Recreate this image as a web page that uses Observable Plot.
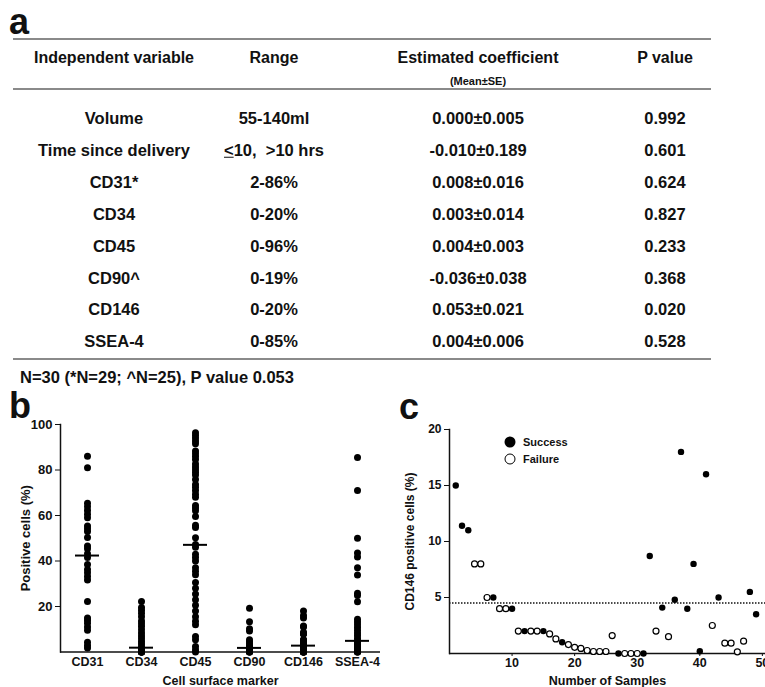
<!DOCTYPE html>
<html><head><meta charset="utf-8">
<script src="https://cdn.jsdelivr.net/npm/d3@7"></script>
<script src="https://cdn.jsdelivr.net/npm/@observablehq/plot@0.6"></script>
<style>
body{margin:0;background:#fff;}
#root{position:relative;width:765px;height:687px;overflow:hidden;font-family:"Liberation Sans",Arial,sans-serif;font-weight:bold;color:#111;}
.t{position:absolute;white-space:nowrap;transform:translate(-50%,-50%);line-height:1;}
.l{position:absolute;white-space:nowrap;transform:translate(0,-50%);line-height:1;}
.rule{position:absolute;left:13px;width:698px;height:2px;background:#8a8a8a;}
.panel{position:absolute;}
.dotf{position:absolute;width:11px;height:11px;border-radius:50%;background:#000;transform:translate(-50%,-50%);}
.doto{position:absolute;width:9px;height:9px;border-radius:50%;border:1.5px solid #000;background:#fff;transform:translate(-50%,-50%);}
</style></head>
<body><div id="root"></div>
<script>
// ---------- Panel a: table ----------
const headers = ["Independent variable", "Range", "Estimated coefficient", "P value"];
const subHeader = "(Mean±SE)";
const variables = ["Volume", "Time since delivery", "CD31*", "CD34", "CD45", "CD90^", "CD146", "SSEA-4"];
const ranges = ["55-140ml", "≤10,  >10 hrs", "2-86%", "0-20%", "0-96%", "0-19%", "0-20%", "0-85%"];
const coefficients = ["0.000±0.005", "-0.010±0.189", "0.008±0.016", "0.003±0.014", "0.004±0.003", "-0.036±0.038", "0.053±0.021", "0.004±0.006"];
const pValues = ["0.992", "0.601", "0.624", "0.827", "0.233", "0.368", "0.020", "0.528"];
const footnote = "N=30 (*N=29; ^N=25), P value 0.053";

// ---------- Panel b: positive cells (%) per marker ----------
const markers = ["CD31", "CD34", "CD45", "CD90", "CD146", "SSEA-4"];
const cd31 = [86, 81, 65.4, 63.8, 62.2, 60.6, 59, 55.4, 54.2, 53, 50.3, 46.6, 45.4, 43.2, 41.5, 38.5, 36.3, 34.8, 33.2, 31.6, 22.2, 15, 13.8, 12.6, 11, 9.6, 4.3, 2.9, 1.8];
const cd34 = [22.2, 19.6, 18.3, 17, 15.5, 13.6, 12.4, 11.2, 9.8, 8.4, 7, 5.8, 4.6, 3.5, 2.3, 1.5, 1.2, 1, 0.8, 0.6, 0.5, 0.4, 0.3, 0.2, 0.1, 0, 0, 0, 0, 0];
const cd45 = [96.4, 95.3, 94.1, 92.8, 91.5, 88.3, 87.1, 85.9, 84.6, 82.6, 81.3, 80.1, 79, 77.8, 75.8, 73.6, 72.4, 71, 69.3, 68, 64.4, 63.3, 62.1, 59.6, 55.7, 54.7, 50.2, 47.2, 46, 43, 41.5, 40, 37, 35.5, 34, 30.5, 28, 25.5, 23, 20.5, 18, 15.5, 13.5, 12, 6.8, 5.4, 2.4, 1, 0];
const cd90 = [19.2, 13.3, 10.2, 9.2, 5.4, 4.5, 3.6, 2.8, 2.2, 1.8, 1.5, 1.2, 0.9, 0.6, 0.4, 0.2, 0.1, 0, 0, 0];
const ssea4 = [85.5, 71, 50, 43.5, 41.8, 37, 33.8, 25.8, 24.8, 22.1, 14.4, 13.2, 12, 10.8, 9.6, 8.4, 7.2, 6, 5, 4.2, 3.4, 2.6, 1.8, 1.2, 0.8, 0.4, 0.2, 0, 0, 0];
const medians = [42.4, 1.9, 47.1, 1.8, 2.8, 4.9];

// ---------- Panel c: CD146 per sample ----------
const samples = [1,2,3,4,5,6,7,8,9,10,11,12,13,14,15,16,17,18,19,20,21,22,23,24,25,26,27,28,29,30,31,32,33,34,35,36,37,38,39,40,41,42,43,44,45,46,47,48,49];
const cd146 = [15, 11.4, 11, 8, 8, 5, 5, 4, 4, 4, 2, 2, 2, 2, 2, 1.75, 1.3, 1.0, 0.8, 0.55, 0.45, 0.27, 0.18, 0.18, 0.18, 1.6, 0, 0, 0, 0, 0, 8.7, 2.0, 4.1, 1.5, 4.8, 18, 4, 8, 0.2, 16, 2.5, 5, 0.92, 0.92, 0.15, 1.1, 5.5, 3.5];
const outcome = ["S","S","S","F","F","F","S","F","F","S","F","S","F","F","S","F","F","S","F","F","F","F","F","F","F","F","S","F","F","F","S","S","F","S","F","S","S","S","S","S","S","F","S","F","F","F","F","S","S"];
const cutoff = 4.5;
const legendLabels = ["Success", "Failure"];

const FONT = '"Liberation Sans", Arial, sans-serif';
const root = document.getElementById("root");
function addText(cls, txt, x, y, size, extra) {
  const d = document.createElement("div");
  d.className = cls;
  d.style.left = x + "px"; d.style.top = y + "px"; d.style.fontSize = size + "px";
  if (extra) Object.assign(d.style, extra);
  d.textContent = txt;
  root.appendChild(d);
  return d;
}
function addRule(y) {
  const r = document.createElement("div");
  r.className = "rule"; r.style.top = (y - 1) + "px";
  root.appendChild(r);
}

// panel letters
addText("l", "a", 9, 22, 36);
addText("l", "b", 9, 406, 36);
addText("l", "c", 399, 407, 36);

// table
const colX = [114, 274, 478, 665];
addRule(39);
headers.forEach((h, i) => addText("t", h, colX[i], 58, 16));
addText("t", subHeader, colX[2], 81, 11);
addRule(89);
const rowY0 = 118, rowStep = 31.9;
variables.forEach((v, i) => {
  const y = rowY0 + rowStep * i;
  addText("t", v, colX[0], y, 16.5);
  const rd = addText("t", ranges[i], colX[1], y, 16.5);
  if (ranges[i].startsWith("≤")) {
    rd.textContent = "";
    const u = document.createElement("u"); u.textContent = "<";
    rd.appendChild(u);
    rd.appendChild(document.createTextNode(ranges[i].slice(1)));
    rd.style.whiteSpace = "pre";
  }
  addText("t", coefficients[i], colX[2], y, 16.5);
  addText("t", pValues[i], colX[3], y, 16.5);
});
addRule(359);
addText("l", footnote, 20, 377, 16.5);

// ---------- Panel b plot ----------
const seriesB = [cd31, cd34, cd45, cd90, cd146, ssea4];
const bData = [];
markers.forEach((m, i) => seriesB[i].forEach(v => bData.push({marker: m, value: v})));
const medData = markers.map((m, i) => ({marker: m, value: medians[i]}));

const plotB = Plot.plot({
  width: 385, height: 299,
  marginLeft: 60, marginRight: 5, marginTop: 36, marginBottom: 35.5,
  style: {fontFamily: FONT, fontSize: "12.5px", fontWeight: "bold", color: "#111", background: "transparent", overflow: "visible"},
  x: {type: "band", domain: markers, range: [59, 384], padding: 0},
  y: {domain: [0, 100]},
  marks: [
    Plot.axisY({ticks: [20, 40, 60, 80, 100], tickSize: 5, tickPadding: 3, label: "Positive cells (%)", labelAnchor: "center", labelOffset: 40, labelArrow: "none", fontSize: 13}),
    Plot.axisX({tickSize: 0, tickPadding: 5, label: "Cell surface marker", labelAnchor: "center", labelOffset: 33, labelArrow: "none", fontSize: 12.5}),
    Plot.ruleY([0], {stroke: "#111", strokeWidth: 1.5}),
    Plot.frame({anchor: "left", stroke: "#111", strokeWidth: 1.5}),
    Plot.dot(bData, {x: "marker", y: "value", r: 3.5, fill: "#000", stroke: "none"}),
    Plot.tickY(medData, {x: "marker", y: "value", stroke: "#000", strokeWidth: 2, insetLeft: 15, insetRight: 15})
  ]
});
const wb = document.createElement("div");
wb.className = "panel"; wb.style.left = "0px"; wb.style.top = "388px";
wb.appendChild(plotB);
root.appendChild(wb);

// ---------- Panel c plot ----------
const cData = samples.map((s, i) => ({sample: s, value: cd146[i], outcome: outcome[i]}));
const plotC = Plot.plot({
  width: 380, height: 299,
  marginLeft: 64, marginRight: 0, marginTop: 41, marginBottom: 34,
  style: {fontFamily: FONT, fontSize: "12.5px", fontWeight: "bold", color: "#111", background: "transparent", overflow: "visible"},
  x: {domain: [0, 50.5]},
  y: {domain: [0, 20]},
  marks: [
    Plot.axisY({ticks: [5, 10, 15, 20], tickSize: 5, tickPadding: 3, label: "CD146 positive cells (%)", labelAnchor: "center", labelOffset: 44, labelArrow: "none", fontSize: 12}),
    Plot.axisX({ticks: [10, 20, 30, 40, 50], tickSize: 3, tickPadding: 2, label: "Number of Samples", labelAnchor: "center", labelOffset: 31, labelArrow: "none", fontSize: 12.5}),
    Plot.ruleY([cutoff], {stroke: "#111", strokeWidth: 1.5, strokeDasharray: "1.5,1.5"}),
    Plot.ruleY([0], {stroke: "#111", strokeWidth: 1.5}),
    Plot.frame({anchor: "left", stroke: "#111", strokeWidth: 1.5}),
    Plot.dot(cData.filter(d => d.outcome === "F"), {x: "sample", y: "value", r: 3, fill: "#fff", stroke: "#000", strokeWidth: 1.2}),
    Plot.dot(cData.filter(d => d.outcome === "S"), {x: "sample", y: "value", r: 3.2, fill: "#000", stroke: "none"})
  ]
});
const wc = document.createElement("div");
wc.className = "panel"; wc.style.left = "385px"; wc.style.top = "388px";
wc.appendChild(plotC);
root.appendChild(wc);

// legend for panel c
const lf = document.createElement("div"); lf.className = "dotf"; lf.style.left = "510px"; lf.style.top = "442px"; root.appendChild(lf);
const lo = document.createElement("div"); lo.className = "doto"; lo.style.left = "510px"; lo.style.top = "459px"; root.appendChild(lo);
addText("l", legendLabels[0], 523, 442, 11);
addText("l", legendLabels[1], 523, 459, 11);
</script>
</body></html>
